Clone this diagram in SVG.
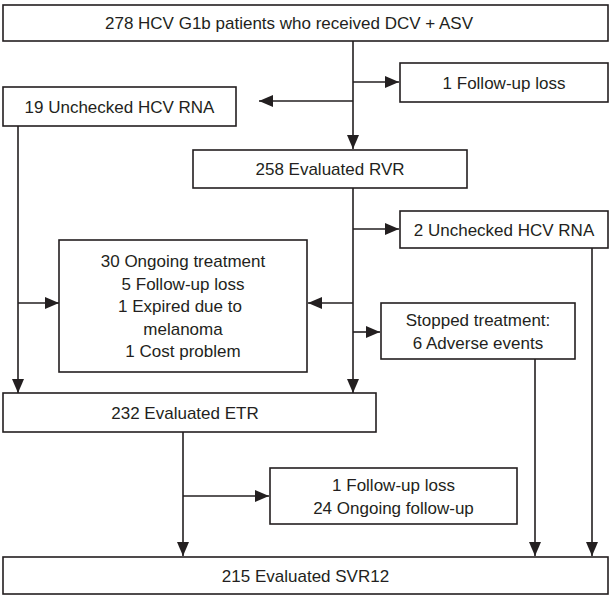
<svg xmlns="http://www.w3.org/2000/svg" width="611" height="597" viewBox="0 0 611 597">
<style>
.box{fill:#ffffff;stroke:#231f20;stroke-width:1.6}
.t{font-family:"Liberation Sans",Arial,sans-serif;font-size:17px;fill:#231f20;text-anchor:middle}
.c{fill:none;stroke:#231f20;stroke-width:1.6}
</style>
<defs>
<marker id="ah" markerUnits="userSpaceOnUse" markerWidth="14" markerHeight="12" viewBox="0 0 14 12" refX="14" refY="6" orient="auto">
<path d="M0,0 L14,6 L0,12 Z" fill="#231f20"/>
</marker>
</defs>
<rect width="611" height="597" fill="#ffffff"/>
<g id="connectors">
<path class="c" d="M353,41 V149" marker-end="url(#ah)"/>
<path class="c" d="M353,82 H399" marker-end="url(#ah)"/>
<path class="c" d="M353,101 H259" marker-end="url(#ah)"/>
<path class="c" d="M353,188 V393" marker-end="url(#ah)"/>
<path class="c" d="M353,229 H399" marker-end="url(#ah)"/>
<path class="c" d="M353,303 H308" marker-end="url(#ah)"/>
<path class="c" d="M353,332 H380" marker-end="url(#ah)"/>
<path class="c" d="M18,126 V393" marker-end="url(#ah)"/>
<path class="c" d="M18,303 H59" marker-end="url(#ah)"/>
<path class="c" d="M183,432 V556" marker-end="url(#ah)"/>
<path class="c" d="M183,496 H269" marker-end="url(#ah)"/>
<path class="c" d="M535,359 V556" marker-end="url(#ah)"/>
<path class="c" d="M592,248 V556" marker-end="url(#ah)"/>
</g>
<g id="n-start">
<rect class="box" x="3" y="5" width="605" height="36"/>
<text class="t" x="289" y="29">278 HCV G1b patients who received DCV + ASV</text>
</g>
<g id="n-fu1">
<rect class="box" x="400" y="63" width="208" height="39"/>
<text class="t" x="504" y="88.5">1 Follow-up loss</text>
</g>
<g id="n-unchk19">
<rect class="box" x="3" y="87" width="233" height="39"/>
<text class="t" x="119.5" y="112.5">19 Unchecked HCV RNA</text>
</g>
<g id="n-rvr">
<rect class="box" x="193" y="150" width="274" height="38"/>
<text class="t" x="330" y="175">258 Evaluated RVR</text>
</g>
<g id="n-unchk2">
<rect class="box" x="400" y="211" width="208" height="37"/>
<text class="t" x="504" y="235.5">2 Unchecked HCV RNA</text>
</g>
<g id="n-ongoing">
<rect class="box" x="59" y="240" width="248" height="132"/>
<text class="t" x="183" y="267">30 Ongoing treatment</text>
<text class="t" x="183" y="289.5">5 Follow-up loss</text>
<text class="t" x="180" y="312">1 Expired due to</text>
<text class="t" x="183" y="334.5">melanoma</text>
<text class="t" x="183" y="357">1 Cost problem</text>
</g>
<g id="n-stopped">
<rect class="box" x="381" y="303" width="194" height="56"/>
<text class="t" x="478" y="326">Stopped treatment:</text>
<text class="t" x="478" y="349">6 Adverse events</text>
</g>
<g id="n-etr">
<rect class="box" x="3" y="393" width="373" height="39"/>
<text class="t" x="185" y="418.5">232 Evaluated ETR</text>
</g>
<g id="n-fu24">
<rect class="box" x="270" y="468" width="247" height="56"/>
<text class="t" x="393.5" y="491">1 Follow-up loss</text>
<text class="t" x="393.5" y="513.5">24 Ongoing follow-up</text>
</g>
<g id="n-svr">
<rect class="box" x="3" y="557" width="605" height="37"/>
<text class="t" x="305.5" y="581.5">215 Evaluated SVR12</text>
</g>
</svg>
